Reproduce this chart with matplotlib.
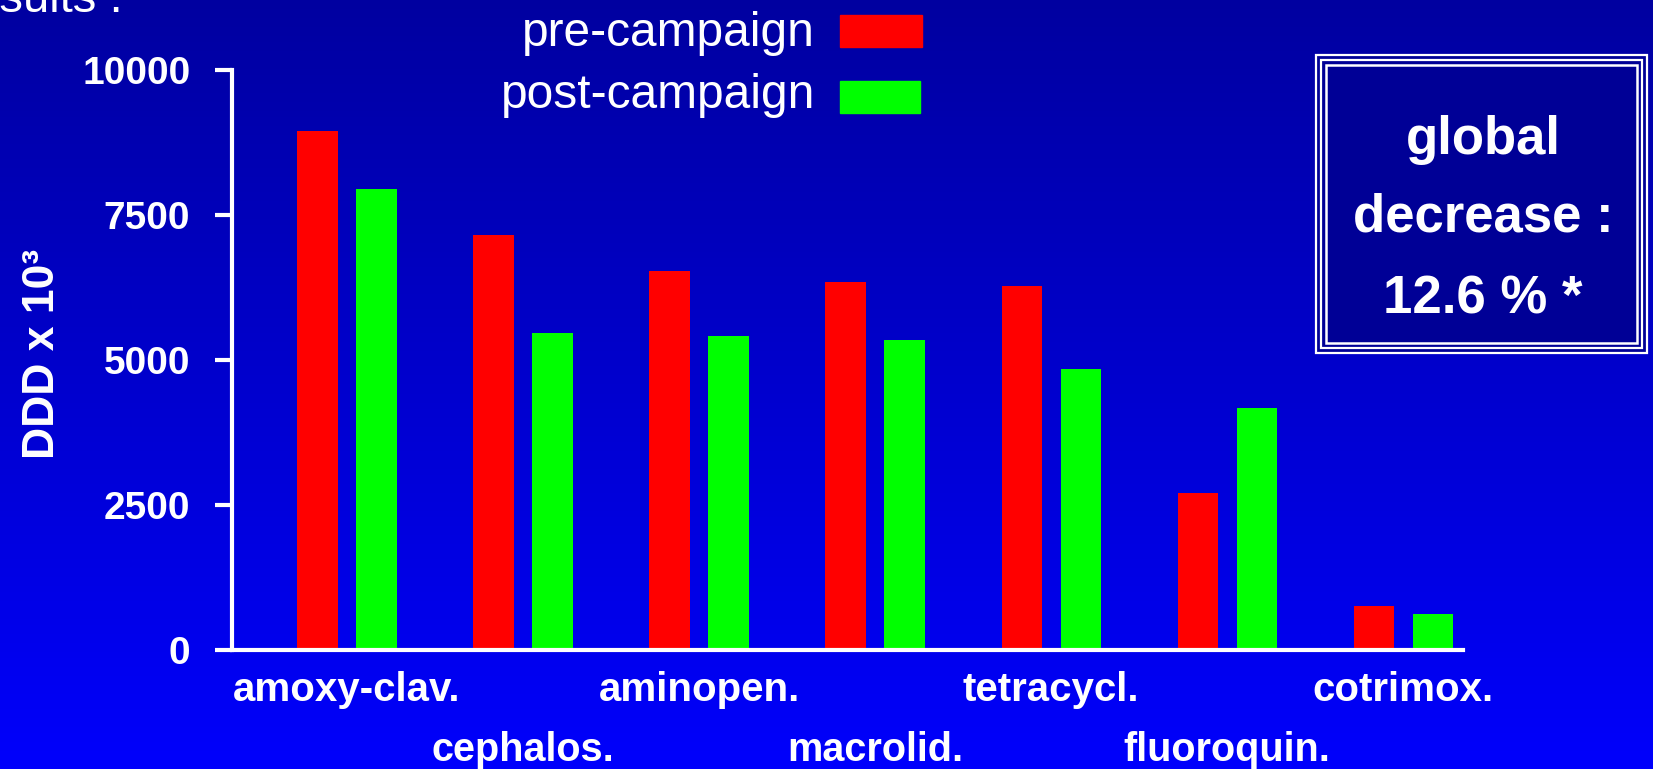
import numpy as np
import matplotlib
matplotlib.use("Agg")
import matplotlib.pyplot as plt
from matplotlib.patches import Rectangle

plt.rcParams['font.family'] = ['Liberation Sans', 'DejaVu Sans']

categories = ["amoxy-clav.", "cephalos.", "aminopen.", "macrolid.",
              "tetracycl.", "fluoroquin.", "cotrimox."]
pre_campaign = [8950, 7150, 6530, 6350, 6280, 2700, 760]
post_campaign = [7950, 5460, 5410, 5340, 4850, 4170, 620]
yticks = [0, 2500, 5000, 7500, 10000]

W, H = 1653, 769
fig = plt.figure(figsize=(W / 100, H / 100), dpi=100)

# background gradient, dark navy on top to bright blue at bottom
bg = fig.add_axes([0, 0, 1, 1], zorder=-10)
grad = np.linspace(0, 1, 256).reshape(-1, 1)
top = np.array([0, 0, 160]) / 255
bot = np.array([0, 0, 252]) / 255
img = top + (bot - top) * grad[:, :, None]
bg.imshow(img, aspect='auto', extent=[0, 1, 0, 1], origin='upper')
bg.axis('off')

def fx(px):
    return px / W

def fy(py):
    return 1 - py / H

ax = fig.add_axes([fx(232), fy(650), fx(1463) - fx(232), fy(70) - fy(650)])
ax.patch.set_alpha(0)

x = np.arange(len(categories))
off = 0.1675
bw = 0.228
ax.bar(x - off, pre_campaign, bw, color='#ff0000', zorder=2)
ax.bar(x + off, post_campaign, bw, color='#00ff00', zorder=2)

ax.set_xlim(-0.653, 6.34)
ax.set_ylim(0, 10000)

for s in ['top', 'right']:
    ax.spines[s].set_visible(False)
for s in ['left', 'bottom']:
    ax.spines[s].set_color('white')
    ax.spines[s].set_linewidth(3)
ax.spines['bottom'].set_zorder(3)

ax.set_yticks(yticks)
ax.set_yticklabels([str(v) for v in yticks], fontsize=28, fontweight='bold', color='white')
ax.tick_params(axis='y', length=12, width=3, color='white', pad=18)

even = x[::2]
odd = x[1::2]
ax.set_xticks(even)
ax.set_xticklabels([categories[i] for i in even], fontsize=29, fontweight='bold', color='white')
ax.set_xticks(odd, minor=True)
ax.set_xticklabels([categories[i] for i in odd], minor=True, fontsize=28.5, fontweight='bold', color='white')
ax.tick_params(axis='x', which='major', length=0, pad=15)
ax.tick_params(axis='x', which='minor', length=0, pad=58.5)

ax.set_ylabel("DDD x 10³", fontsize=32, fontweight='bold', color='white')
ax.yaxis.set_label_coords(-(232 - 63) / (1463 - 232), 0.51)

# legend drawn by hand on the right of the labels
fig.text(fx(815), fy(34), "pre-campaign", ha='right', va='center', fontsize=34.5, color='white')
fig.text(fx(815), fy(95), "post-campaign", ha='right', va='center', fontsize=34.5, color='white')
fig.patches.append(Rectangle((fx(840), fy(47)), fx(922) - fx(840), fy(15) - fy(47),
                             transform=fig.transFigure, color='#ff0000'))
fig.patches.append(Rectangle((fx(840), fy(113)), fx(920) - fx(840), fy(81) - fy(113),
                             transform=fig.transFigure, color='#00ff00'))

# cropped title at the top left
fig.text(fx(123), fy(12), "Results :", ha='right', va='baseline', fontsize=34, color='white')

# framed box with a triple white border
x0, x1, y0, y1 = 1315, 1648, 54, 354
fig.patches.append(Rectangle((fx(x0), fy(y1)), fx(x1) - fx(x0), fy(y0) - fy(y1),
                             transform=fig.transFigure, facecolor='#000096',
                             edgecolor='none'))
for inset, lw in [(1, 1.6), (6, 1.6), (11, 1.8)]:
    fig.patches.append(Rectangle((fx(x0 + inset), fy(y1 - inset)),
                                 fx(x1 - inset) - fx(x0 + inset),
                                 fy(y0 + inset) - fy(y1 - inset),
                                 transform=fig.transFigure, facecolor='none',
                                 edgecolor='white', linewidth=lw))
for txt, py in [("global", 140), ("decrease :", 218), ("12.6 % *", 300)]:
    fig.text(fx(1483), fy(py), txt, ha='center', va='center', fontsize=38,
             fontweight='bold', color='white')

fig.savefig("out.png", dpi=100)
